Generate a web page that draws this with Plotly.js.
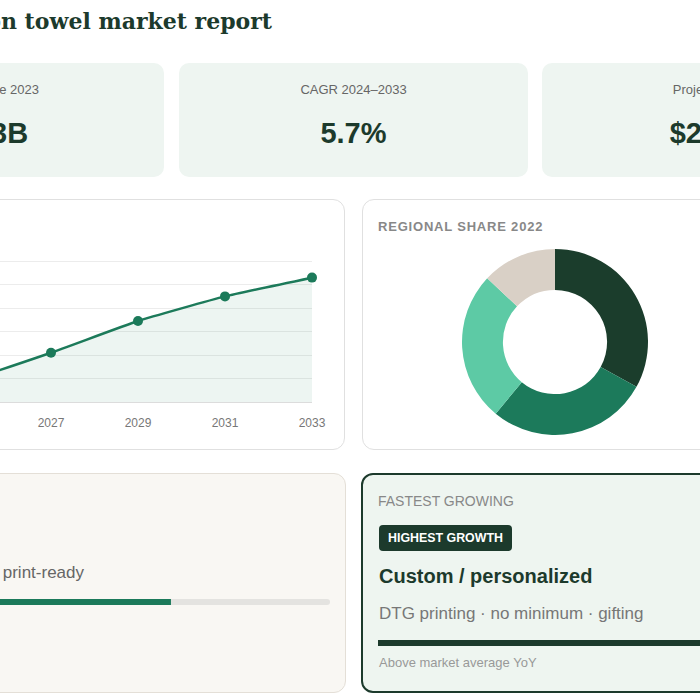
<!DOCTYPE html>
<html>
<head>
<meta charset="utf-8">
<script src="https://cdn.plot.ly/plotly-3.0.1.min.js"></script>
<style>
  html, body { margin:0; padding:0; background:#ffffff; }
  body { width:700px; height:700px; overflow:hidden; position:relative;
         font-family:"Liberation Sans", Arial, sans-serif; }
  .abs { position:absolute; white-space:nowrap; }
  .title { font-family:"DejaVu Serif", Georgia, serif; font-weight:bold; font-size:22px;
           color:#1c3a2c; line-height:28px; }
  .kpi { position:absolute; top:63px; width:349px; height:114px; background:#eef5f1; border-radius:10px; }
  .kpi .lab { position:absolute; left:0; right:0; top:19px; text-align:center; font-size:13px; line-height:15px; color:#666; }
  .kpi .val { position:absolute; left:0; right:0; top:53px; text-align:center; font-size:29px; line-height:34px; font-weight:bold; color:#1c3a2c; }
  .card { position:absolute; box-sizing:border-box; border-radius:12px; }
  .cap { font-size:13px; font-weight:bold; letter-spacing:0.8px; color:#888; line-height:15px; }
</style>
</head>
<body>
<div id="title" class="abs title" style="right:428px; top:7px;"></div>
<div id="kpis"></div>

<div class="card" style="left:-185px; top:199px; width:530px; height:251px; background:#fff; border:1px solid #e0e0e0;"></div>
<div id="lineChart" class="abs" style="left:-185px; top:199px; width:530px; height:251px;"></div>

<div class="card" style="left:362px; top:199px; width:529px; height:251px; background:#fff; border:1px solid #e0e0e0;"></div>
<div id="donutTitle" class="abs cap" style="left:378px; top:219px;"></div>
<div id="donut" class="abs" style="left:462px; top:249px; width:186px; height:186px;"></div>

<div class="card" style="left:-185px; top:473px; width:531px; height:220px; background:#f9f7f3; border:1px solid #e4dfd7;"></div>
<div id="leadSub" class="abs" style="right:616px; top:563px; font-size:17px; line-height:20px; color:#666;"></div>
<div id="leadBar" class="abs" style="left:-167px; top:597px; width:497px; height:10px;"></div>

<div class="card" style="left:361px; top:473px; width:530px; height:220px; background:#eef5f0; border:2px solid #1c3a2c;"></div>
<div id="fastCap" class="abs" style="left:378px; top:493px; font-size:14px; line-height:16px; color:#888;"></div>
<div id="badge" class="abs" style="left:379px; top:525px; height:26px; line-height:26px; padding:0 9px; background:#1c3a2c; border-radius:4px; color:#fff; font-size:12.4px; font-weight:bold;"></div>
<div id="fastTitle" class="abs" style="left:379px; top:564px; font-size:20px; line-height:24px; font-weight:bold; color:#1c3a2c;"></div>
<div id="fastSub" class="abs" style="left:379px; top:604px; font-size:17px; line-height:20px; color:#777;"></div>
<div id="fastBar" class="abs" style="left:378px; top:638px; width:495px; height:10px;"></div>
<div id="fastNote" class="abs" style="left:379px; top:655px; font-size:13px; line-height:16px; color:#999;"></div>

<script>
// ---- data ----
const reportTitle = "Custom cotton towel market report";
const kpiLabels = ["Market size 2023", "CAGR 2024\u20132033", "Projected 2033"];
const kpiValues = ["$1.3B", "5.7%", "$2.26B"];

const years = [2023, 2025, 2027, 2029, 2031, 2033];
const marketSize = [1.30, 1.38, 1.62, 1.89, 2.10, 2.26];   // $B

const regionTitle = "REGIONAL SHARE 2022";
const regions = ["North America", "Europe", "Asia Pacific", "Rest of world"];
const regionShare = [33, 28, 26, 13];

const leadText = "Plain blanks \u00b7 wholesale \u00b7 print-ready";
const leadShare = [68];

const fastCaption = "FASTEST GROWING";
const fastBadge = "HIGHEST GROWTH";
const fastSegment = "Custom / personalized";
const fastDrivers = "DTG printing \u00b7 no minimum \u00b7 gifting";
const fastNote = "Above market average YoY";
const fastScore = [100];

// ---- text ----
document.getElementById('title').textContent = reportTitle;
const kpiLeft = [-185, 179, 542];
const kp = document.getElementById('kpis');
kpiLabels.forEach((l, i) => {
  const d = document.createElement('div');
  d.className = 'kpi';
  d.style.left = kpiLeft[i] + 'px';
  d.innerHTML = '<div class="lab"></div><div class="val"></div>';
  d.querySelector('.lab').textContent = l;
  d.querySelector('.val').textContent = kpiValues[i];
  kp.appendChild(d);
});
document.getElementById('donutTitle').textContent = regionTitle;
document.getElementById('leadSub').textContent = leadText;
document.getElementById('fastCap').textContent = fastCaption;
document.getElementById('badge').textContent = fastBadge;
document.getElementById('fastTitle').textContent = fastSegment;
document.getElementById('fastSub').textContent = fastDrivers;
document.getElementById('fastNote').textContent = fastNote;

const cfg = {displayModeBar:false, staticPlot:true};
const FONT = "Liberation Sans, Arial, sans-serif";

// ---- line chart ----
Plotly.newPlot('lineChart', [{
  x: years, y: marketSize, type:'scatter', mode:'lines+markers',
  line:{color:'#1c7a5a', width:2.5, shape:'spline', smoothing:0.4},
  marker:{color:'#1c7a5a', size:10},
  fill:'tozeroy', fillcolor:'rgba(28,122,90,0.08)',
  cliponaxis:false, hoverinfo:'skip'
}], {
  width:530, height:251,
  margin:{l:62, r:33, t:61, b:48},
  paper_bgcolor:'rgba(0,0,0,0)', plot_bgcolor:'rgba(0,0,0,0)',
  font:{family:FONT, size:12, color:'#777'},
  showlegend:false,
  xaxis:{range:[2023, 2033], tickvals:years, ticktext:years.map(String), showgrid:false,
         zeroline:false, showline:true, linecolor:'#dcdcdc', linewidth:1, ticks:'',
         ticklabelstandoff:10, tickfont:{size:12, color:'#777'}},
  yaxis:{range:[1.2, 2.41], tickvals:[1.2, 1.4, 1.6, 1.8, 2.0, 2.2, 2.4], tickprefix:'$', ticksuffix:'B', tickformat:'.1f',
         showgrid:true, gridcolor:'#ececec', gridwidth:1, zeroline:false, showline:false, ticks:'',
         tickfont:{size:12, color:'#777'}}
}, cfg);

// ---- donut ----
Plotly.newPlot('donut', [{
  type:'pie', labels:regions, values:regionShare, hole:0.56, sort:false,
  direction:'clockwise', rotation:0, textinfo:'none', hoverinfo:'skip',
  marker:{colors:['#1b3d2c', '#1c7a5b', '#5dcaa5', '#d9d0c6'], line:{width:0}}
}], {
  width:186, height:186, margin:{l:0, r:0, t:0, b:0}, showlegend:false,
  paper_bgcolor:'rgba(0,0,0,0)'
}, cfg);

// ---- progress bars ----
function progress(id, val, fillColor, trackColor, w) {
  Plotly.newPlot(id, [
    {type:'bar', orientation:'h', x:[100], y:[0], marker:{color:trackColor, cornerradius:3}, hoverinfo:'skip'},
    {type:'bar', orientation:'h', x:val, y:[0], marker:{color:fillColor, cornerradius:3}, hoverinfo:'skip'}
  ], {
    width:w, height:10, margin:{l:0, r:0, t:0, b:0}, barmode:'overlay', bargap:0.4,
    showlegend:false, paper_bgcolor:'rgba(0,0,0,0)', plot_bgcolor:'rgba(0,0,0,0)',
    xaxis:{range:[0, 100], visible:false, fixedrange:true},
    yaxis:{range:[-0.5, 0.5], visible:false, fixedrange:true}
  }, cfg);
}
progress('leadBar', leadShare, '#1c7a5a', '#e4e3e0', 497);
progress('fastBar', fastScore, '#1c3a2c', '#d5e3dc', 495);
</script>
</body>
</html>
